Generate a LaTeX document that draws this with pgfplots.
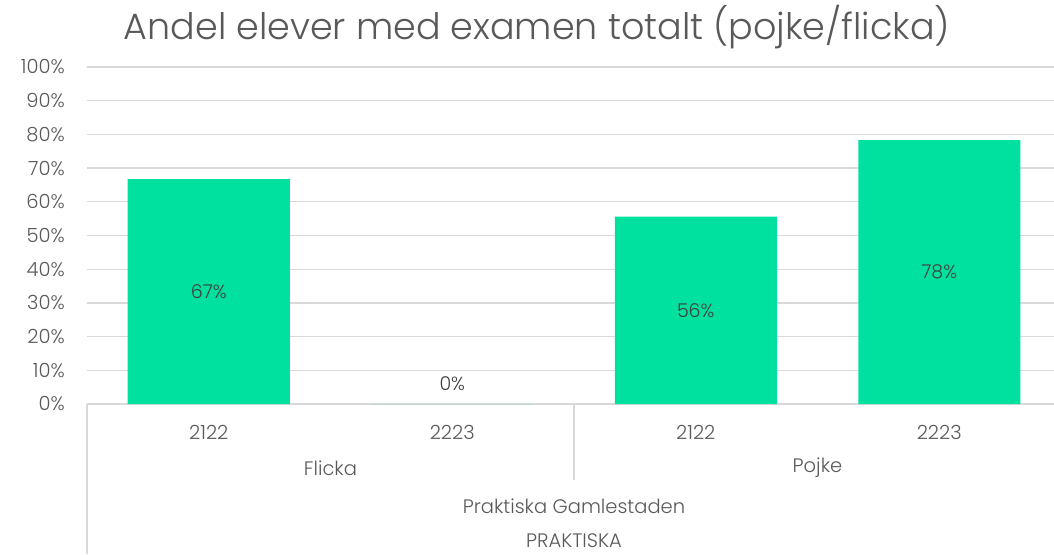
\documentclass[border=0pt]{standalone}
\usepackage{fontspec}
\setmainfont{Poppins}
\newfontfamily\lightfont{Poppins}[UprightFont=* Light]
\usepackage{pgfplots}
\pgfplotsset{compat=1.18}
\definecolor{bargreen}{HTML}{00E09E}
\definecolor{gridgray}{HTML}{D9D9D9}
\definecolor{txtgray}{HTML}{595959}
\definecolor{lblgray}{HTML}{404040}
\begin{document}
\begin{tikzpicture}
\useasboundingbox (-87pt,-150pt) rectangle (967pt,404pt);
\begin{axis}[
    x=243.5pt, y=3.37pt,
    xmin=-0.5, xmax=3.471, ymin=0, ymax=100,
    clip=false,
    /pgf/number format/assume math mode=true,
    axis line style={draw=none},
    major tick length=0pt,
    ymajorgrids, grid style={gridgray, line width=1.3pt},
    ytick={0,10,...,100},
    yticklabel={\pgfmathprintnumber{\tick}\%},
    yticklabel style={anchor=east, inner sep=0pt, xshift=-22pt, text=txtgray,
        font=\lightfont\fontsize{19.5}{20}\selectfont},
    xtick={0,1,2,3},
    xticklabels={2122,2223,2122,2223},
    xticklabel style={anchor=center, inner sep=0pt, yshift=-28pt, text=txtgray,
        font=\lightfont\fontsize{19.5}{20}\selectfont},
]
\addplot[ybar, bar width=162pt, fill=bargreen, draw=none,
    point meta=y,
    visualization depends on={y \as \rawy},
    nodes near coords={\pgfmathprintnumber[fixed, precision=0]{\pgfplotspointmeta}\%},
    every node near coord/.append style={anchor=center, text=lblgray,
        font=\lightfont\fontsize{19}{20}\selectfont,
        shift={(axis direction cs:0,{\rawy==0 ? 6 : -\rawy/2})}},
] coordinates {(0,66.7) (1,0) (2,55.6) (3,78.3)};
\end{axis}
% multi-level category axis
\draw[gridgray, line width=1.3pt] (0pt,0pt) -- (0pt,-150pt);
\draw[gridgray, line width=1.3pt] (487pt,0pt) -- (487pt,-76pt);
\begin{scope}[every node/.style={text=txtgray, font=\lightfont\fontsize{19.5}{20}\selectfont}]
\node at (243.5pt,-64pt) {Flicka};
\node at (730.5pt,-64pt) {Pojke};
\node at (487pt,-102pt) {Praktiska Gamlestaden};
\node at (487pt,-137pt) {PRAKTISKA};
\end{scope}
\node[text=txtgray, font=\lightfont\fontsize{36.5}{40}\selectfont] at (450pt,377pt)
    {Andel elever med examen totalt (pojke/flicka)};
\end{tikzpicture}
\end{document}
